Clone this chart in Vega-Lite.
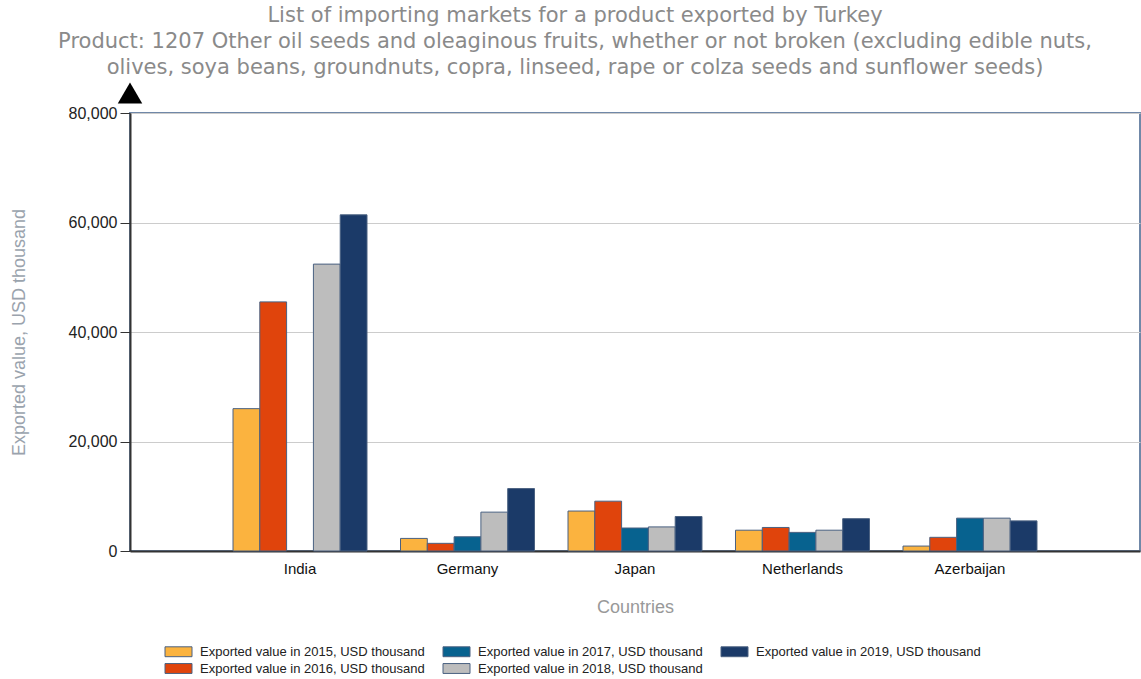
{
  "$schema": "https://vega.github.io/schema/vega-lite/v6.json",
  "autosize": "none",
  "width": 1010,
  "height": 438,
  "padding": {"left": 130, "top": 113, "right": 1, "bottom": 128},
  "background": "white",
  "title": {
    "text": ["List of importing markets for a product exported by Turkey", "Product: 1207 Other oil seeds and oleaginous fruits, whether or not broken (excluding edible nuts,", "olives, soya beans, groundnuts, copra, linseed, rape or colza seeds and sunflower seeds)"],
    "anchor": "middle",
    "frame": "group",
    "dx": -60,
    "offset": 4,
    "font": "DejaVu Sans",
    "fontSize": 21,
    "fontWeight": "normal",
    "color": "#8a8a8a",
    "lineHeight": 26
  },
  "config": {
    "view": {"stroke": "#7088a8", "strokeWidth": 2},
    "axis": {"labelFont": "Arial, Liberation Sans", "titleFont": "Arial, Liberation Sans", "titleFontWeight": "normal"}
  },
  "data": {
    "values": [
      {"country": "India", "series": "Exported value in 2015, USD thousand", "value": 26000},
      {"country": "India", "series": "Exported value in 2016, USD thousand", "value": 45500},
      {"country": "India", "series": "Exported value in 2018, USD thousand", "value": 52400},
      {"country": "India", "series": "Exported value in 2019, USD thousand", "value": 61400},
      {"country": "Germany", "series": "Exported value in 2015, USD thousand", "value": 2300},
      {"country": "Germany", "series": "Exported value in 2016, USD thousand", "value": 1400},
      {"country": "Germany", "series": "Exported value in 2017, USD thousand", "value": 2600},
      {"country": "Germany", "series": "Exported value in 2018, USD thousand", "value": 7100},
      {"country": "Germany", "series": "Exported value in 2019, USD thousand", "value": 11400},
      {"country": "Japan", "series": "Exported value in 2015, USD thousand", "value": 7300},
      {"country": "Japan", "series": "Exported value in 2016, USD thousand", "value": 9100},
      {"country": "Japan", "series": "Exported value in 2017, USD thousand", "value": 4200},
      {"country": "Japan", "series": "Exported value in 2018, USD thousand", "value": 4400},
      {"country": "Japan", "series": "Exported value in 2019, USD thousand", "value": 6300},
      {"country": "Netherlands", "series": "Exported value in 2015, USD thousand", "value": 3800},
      {"country": "Netherlands", "series": "Exported value in 2016, USD thousand", "value": 4300},
      {"country": "Netherlands", "series": "Exported value in 2017, USD thousand", "value": 3400},
      {"country": "Netherlands", "series": "Exported value in 2018, USD thousand", "value": 3800},
      {"country": "Netherlands", "series": "Exported value in 2019, USD thousand", "value": 5900},
      {"country": "Azerbaijan", "series": "Exported value in 2015, USD thousand", "value": 900},
      {"country": "Azerbaijan", "series": "Exported value in 2016, USD thousand", "value": 2500},
      {"country": "Azerbaijan", "series": "Exported value in 2017, USD thousand", "value": 6000},
      {"country": "Azerbaijan", "series": "Exported value in 2018, USD thousand", "value": 6000},
      {"country": "Azerbaijan", "series": "Exported value in 2019, USD thousand", "value": 5500}
    ]
  },
  "layer": [
    {
      "mark": {"type": "bar", "stroke": "#4a6181", "strokeWidth": 1},
      "encoding": {
        "x": {
          "field": "country", "type": "nominal",
          "sort": ["India", "Germany", "Japan", "Netherlands", "Azerbaijan"],
          "scale": {"paddingInner": 0.2, "paddingOuter": 0.615},
          "axis": {
            "title": "Countries", "labelAngle": 0, "ticks": false, "labelPadding": 10,
            "labelFontSize": 15, "labelColor": "#111", "domainColor": "#333", "domainWidth": 2,
            "titleColor": "#999", "titleFontSize": 18, "titlePadding": 22, "grid": false
          }
        },
        "xOffset": {"field": "series", "type": "nominal", "sort": "ascending", "scale": {"paddingInner": 0, "paddingOuter": 0}},
        "y": {
          "field": "value", "type": "quantitative",
          "scale": {"domain": [0, 80000], "nice": false},
          "axis": {
            "title": "Exported value, USD thousand", "values": [0, 20000, 40000, 60000, 80000], "format": ",.0f",
            "labelFontSize": 16, "labelColor": "#222", "tickSize": 10, "tickColor": "#333", "labelPadding": 3,
            "domainColor": "#333", "domainWidth": 2, "gridColor": "#cccccc", "gridWidth": 1,
            "titleColor": "#9aa3ad", "titleFontSize": 18, "titlePadding": 40
          }
        },
        "color": {
          "field": "series", "type": "nominal",
          "scale": {
            "domain": ["Exported value in 2015, USD thousand", "Exported value in 2017, USD thousand", "Exported value in 2019, USD thousand", "Exported value in 2016, USD thousand", "Exported value in 2018, USD thousand"],
            "range": ["#fbb33f", "#07628f", "#1b3a68", "#e0440c", "#bdbdbd"]
          },
          "legend": {
            "title": null, "orient": "none", "legendX": 39, "legendY": 529, "columns": 3,
            "direction": "horizontal",
            "symbolType": "M-1.5,-0.55H1.5V0.55H-1.5Z", "symbolSize": 324,
            "symbolStrokeColor": "#4a6181", "symbolStrokeWidth": 1, "symbolOpacity": 1,
            "labelFont": "Arial, Liberation Sans", "labelFontSize": 13, "labelColor": "#222",
            "labelOffset": 12, "labelLimit": 300, "columnPadding": 16, "rowPadding": 0
          }
        }
      }
    },
    {
      "data": {"values": [{"marker": "arrow"}]},
      "mark": {"type": "point", "shape": "triangle-up", "filled": true, "color": "#000", "opacity": 1, "size": 600, "yOffset": -20},
      "encoding": {
        "x": {"value": 0},
        "y": {"datum": 80000}
      }
    }
  ]
}
